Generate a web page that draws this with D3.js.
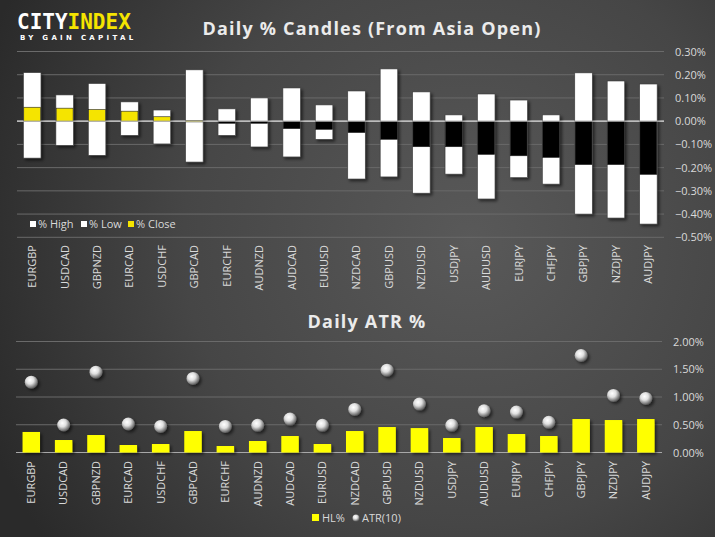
<!DOCTYPE html>
<html><head><meta charset="utf-8">
<script src="https://cdn.jsdelivr.net/npm/d3@7"></script>
<style>html,body{margin:0;padding:0;background:#333;}svg{display:block;}</style>
</head><body>
<script>
const categories = ["EURGBP","USDCAD","GBPNZD","EURCAD","USDCHF","GBPCAD","EURCHF","AUDNZD","AUDCAD","EURUSD","NZDCAD","GBPUSD","NZDUSD","USDJPY","AUDUSD","EURJPY","CHFJPY","GBPJPY","NZDJPY","AUDJPY"];
const pctHigh  = [0.209,0.113,0.162,0.083,0.048,0.221,0.053,0.100,0.143,0.070,0.130,0.225,0.126,0.027,0.117,0.091,0.027,0.208,0.173,0.160];
const pctLow   = [-0.159,-0.104,-0.147,-0.061,-0.098,-0.176,-0.061,-0.111,-0.154,-0.078,-0.249,-0.240,-0.310,-0.228,-0.335,-0.243,-0.271,-0.400,-0.417,-0.443];
const pctClose = [0.060,0.056,0.050,0.043,0.019,0.002,-0.009,-0.009,-0.032,-0.035,-0.049,-0.078,-0.110,-0.110,-0.143,-0.149,-0.156,-0.187,-0.187,-0.229];
const hlPct    = [0.370,0.225,0.315,0.135,0.153,0.387,0.117,0.207,0.297,0.153,0.387,0.459,0.440,0.261,0.459,0.333,0.297,0.603,0.585,0.603];
const atr10    = [1.268,0.495,1.448,0.513,0.470,1.334,0.470,0.490,0.603,0.490,0.777,1.484,0.872,0.490,0.752,0.728,0.543,1.748,1.029,0.975];
const topTicks = [0.3,0.2,0.1,0,-0.1,-0.2,-0.3,-0.4,-0.5];
const botTicks = [0,0.5,1,1.5,2];

const W = 715, H = 537;
const svg = d3.select("body").append("svg").attr("width", W).attr("height", H);
const defs = svg.append("defs");
const bg = defs.append("radialGradient").attr("id","bg").attr("gradientUnits","userSpaceOnUse")
  .attr("cx",470).attr("cy",240).attr("r",520);
bg.append("stop").attr("offset","0%").attr("stop-color","#595959");
bg.append("stop").attr("offset","55%").attr("stop-color","#464646");
bg.append("stop").attr("offset","100%").attr("stop-color","#2a2a2a");
const sh = defs.append("filter").attr("id","sh").attr("x","-50%").attr("y","-50%").attr("width","200%").attr("height","200%");
sh.append("feDropShadow").attr("dx",2).attr("dy",2).attr("stdDeviation",1.8).attr("flood-color","#000").attr("flood-opacity",0.55);
const sph = defs.append("radialGradient").attr("id","sph").attr("cx","40%").attr("cy","35%").attr("r","65%");
sph.append("stop").attr("offset","0%").attr("stop-color","#ffffff");
sph.append("stop").attr("offset","45%").attr("stop-color","#e0e0e0");
sph.append("stop").attr("offset","80%").attr("stop-color","#8a8a8a");
sph.append("stop").attr("offset","100%").attr("stop-color","#5a5a5a");

svg.append("rect").attr("width",W).attr("height",H).attr("fill","url(#bg)");

const FONT = "'Open Sans', 'Noto Sans', sans-serif";
const txtCol = "#d9d9d9";
const gridCol = "#6a6a6a";

// Logo
const logo = svg.append("text").attr("x",17).attr("y",29).attr("font-family","'DejaVu Sans Mono', monospace")
  .attr("font-weight","bold").attr("font-size",21);
logo.append("tspan").attr("fill","#ffffff").text("CITY");
logo.append("tspan").attr("fill","#f5e400").text("INDEX");
svg.append("text").attr("x",20).attr("y",40).attr("font-family","'DejaVu Sans', sans-serif").attr("font-weight","bold")
  .attr("font-size",7).attr("letter-spacing",3.3).attr("fill","#ffffff").text("BY GAIN CAPITAL");

// ---------- Top chart ----------
const xTop = d3.scaleBand().domain(categories).range([16, 664.6]).paddingInner(0.46).paddingOuter(0.23);
const yTop = d3.scaleLinear().domain([-0.5, 0.3]).range([237.3, 51.5]);

svg.append("text").attr("x",372).attr("y",35).attr("text-anchor","middle").attr("font-family",FONT)
  .attr("font-weight","bold").attr("font-size",18).attr("letter-spacing",1.2).attr("fill","#ebebeb")
  .text("Daily % Candles (From Asia Open)");

const gTopGrid = svg.append("g");
topTicks.forEach(t => {
  gTopGrid.append("line").attr("x1",17).attr("x2",664).attr("y1",yTop(t)).attr("y2",yTop(t))
    .attr("stroke", t===0 ? "#c8c8c8" : gridCol).attr("stroke-width", t===0 ? 1.2 : 1);
});
const yAxisTop = d3.axisRight(yTop).tickValues(topTicks).tickSize(0).tickFormat(d => d3.format(".2f")(d) + "%");
const gyt = svg.append("g").attr("transform","translate(669,0)").call(yAxisTop);
gyt.select(".domain").remove();
gyt.selectAll("text").attr("font-family",FONT).attr("font-size",11).attr("fill",txtCol).attr("x",6);

const candles = svg.append("g");
categories.forEach((c,i) => {
  const x = xTop(c), w = xTop.bandwidth();
  candles.append("rect").attr("x",x).attr("width",w)
    .attr("y",yTop(pctHigh[i])).attr("height",yTop(pctLow[i]) - yTop(pctHigh[i]))
    .attr("fill","#ffffff").attr("stroke","#3a3a3a").attr("stroke-width",0.6).attr("filter","url(#sh)");
});
categories.forEach((c,i) => {
  const x = xTop(c), w = xTop.bandwidth();
  const v = pctClose[i];
  const y0 = yTop(Math.max(0,v)), y1 = yTop(Math.min(0,v));
  candles.append("rect").attr("x",x+0.3).attr("width",w-0.6)
    .attr("y",y0).attr("height",Math.max(1.2, y1-y0))
    .attr("fill", v >= 0 ? "#f5e400" : "#000000")
    .attr("stroke","#222").attr("stroke-width", 0.6);
});
// zero line on top of bars
svg.append("line").attr("x1",17).attr("x2",664).attr("y1",yTop(0)).attr("y2",yTop(0)).attr("stroke","#c8c8c8").attr("stroke-width",1).attr("opacity",0.9);

const xAxisTop = d3.axisBottom(xTop).tickSize(0);
const gxt = svg.append("g").attr("transform","translate(0,243)").call(xAxisTop);
gxt.select(".domain").remove();
gxt.selectAll("text").attr("font-family",FONT).attr("font-size",11).attr("fill",txtCol)
  .attr("transform","rotate(-90)").attr("text-anchor","end").attr("x",-2).attr("y",0).attr("dy","0.35em");

// top legend
const legTop = [["% High","#ffffff",30],["% Low","#ffffff",81],["% Close","#f5e400",128]];
legTop.forEach(([lab,col,x]) => {
  svg.append("rect").attr("x",x).attr("y",221).attr("width",6).attr("height",6).attr("fill",col);
  svg.append("text").attr("x",x+8).attr("y",228).attr("font-family",FONT).attr("font-size",11).attr("fill",txtCol).text(lab);
});

// ---------- Bottom chart ----------
const xBot = d3.scaleBand().domain(categories).range([15.1, 662]).paddingInner(0.46).paddingOuter(0.23);
const yBot = d3.scaleLinear().domain([0, 2]).range([452.5, 341.5]);

svg.append("text").attr("x",367).attr("y",328).attr("text-anchor","middle").attr("font-family",FONT)
  .attr("font-weight","bold").attr("font-size",18).attr("letter-spacing",1.2).attr("fill","#ebebeb")
  .text("Daily ATR %");

botTicks.forEach(t => {
  svg.append("line").attr("x1",16).attr("x2",662).attr("y1",yBot(t)).attr("y2",yBot(t))
    .attr("stroke", t===0 ? "#a8a8a8" : gridCol).attr("stroke-width",1);
});
const yAxisBot = d3.axisRight(yBot).tickValues(botTicks).tickSize(0).tickFormat(d => d3.format(".2f")(d) + "%");
const gyb = svg.append("g").attr("transform","translate(667,0)").call(yAxisBot);
gyb.select(".domain").remove();
gyb.selectAll("text").attr("font-family",FONT).attr("font-size",11).attr("fill",txtCol).attr("x",6);

svg.append("g").selectAll("rect").data(categories).join("rect")
  .attr("x", d => xBot(d)).attr("width", xBot.bandwidth())
  .attr("y", (d,i) => yBot(hlPct[i])).attr("height", (d,i) => yBot(0) - yBot(hlPct[i]))
  .attr("fill","#ffff00").attr("filter","url(#sh)");

svg.append("g").selectAll("circle").data(categories).join("circle")
  .attr("cx", d => xBot(d) + xBot.bandwidth()/2).attr("cy", (d,i) => yBot(atr10[i]))
  .attr("r", 6.5).attr("fill","url(#sph)").attr("filter","url(#sh)");

const xAxisBot = d3.axisBottom(xBot).tickSize(0);
const gxb = svg.append("g").attr("transform","translate(0,459)").call(xAxisBot);
gxb.select(".domain").remove();
gxb.selectAll("text").attr("font-family",FONT).attr("font-size",11).attr("fill",txtCol)
  .attr("transform","rotate(-90)").attr("text-anchor","end").attr("x",-2).attr("y",0).attr("dy","0.35em");

// bottom legend
svg.append("rect").attr("x",312).attr("y",514).attr("width",7).attr("height",7).attr("fill","#ffff00");
svg.append("text").attr("x",322).attr("y",522).attr("font-family",FONT).attr("font-size",11).attr("fill",txtCol).text("HL%");
svg.append("circle").attr("cx",356).attr("cy",518).attr("r",3.5).attr("fill","url(#sph)");
svg.append("text").attr("x",362).attr("y",522).attr("font-family",FONT).attr("font-size",11).attr("fill",txtCol).text("ATR(10)");
</script>
</body></html>
